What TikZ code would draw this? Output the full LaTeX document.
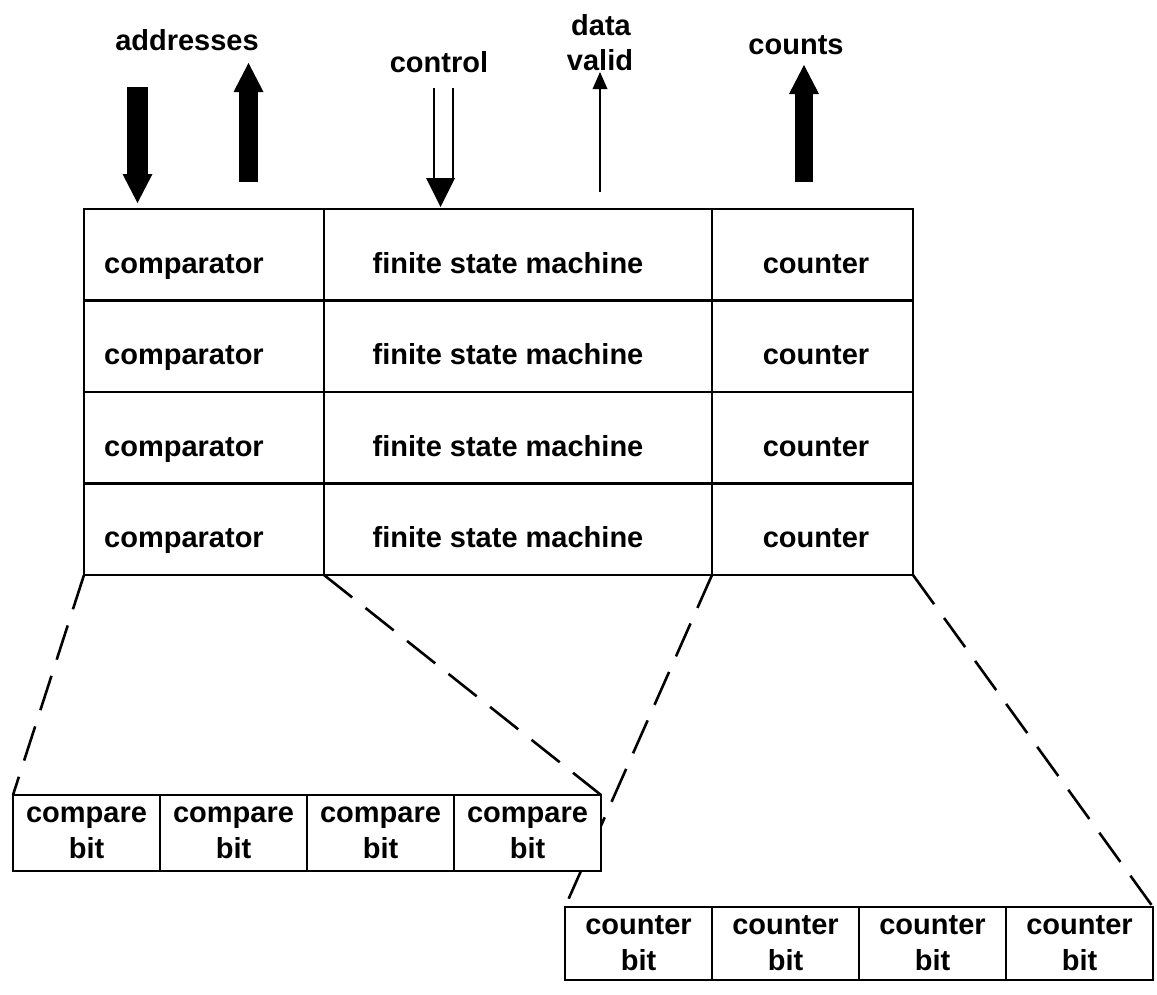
\documentclass[tikz,border=0pt]{standalone}
\usepackage{fontspec}
\setmainfont{Liberation Sans}
\usetikzlibrary{arrows.meta}
\pgfdeclarelayer{bg}
\pgfsetlayers{bg,main}
\begin{document}
\begin{tikzpicture}[x=1pt,y=-1pt,
  lbl/.style={font=\bfseries\fontsize{29}{36}\selectfont, inner sep=0pt, outer sep=0pt},
  mcell/.style={draw, line width=2.8pt, inner sep=0pt, outer sep=0pt, minimum height=91.5pt},
  bcell/.style={draw, fill=white, line width=2.8pt, inner sep=0pt, outer sep=0pt,
                minimum width=147pt, align=center, lbl},
  dashln/.style={line width=2.6pt, dash pattern=on 36pt off 17pt},
  fatarrow/.style={line width=#1, -{Triangle[length=29pt,width=30pt,line width=0pt]}},
  thinarrow/.style={line width=2.6pt, -{Triangle[length=17pt,width=15pt,line width=0pt]}},
  thinline/.style={line width=2.6pt}
]
\useasboundingbox (0,0) rectangle (1157,994);

% main grid
\foreach \r in {1,2,3,4}{
  \node[mcell, minimum width=240pt] (a\r) at (204,{209+91.5*(\r-0.5)}) {};
  \node[mcell, minimum width=388pt] (b\r) at (518,{209+91.5*(\r-0.5)}) {};
  \node[mcell, minimum width=201pt] (c\r) at (812.5,{209+91.5*(\r-0.5)}) {};
  \node[lbl, anchor=base] (ta\r) at (184,{209+91.5*(\r-1)+64}) {comparator};
  \node[lbl, anchor=base] (tb\r) at (508,{209+91.5*(\r-1)+64}) {finite state machine};
  \node[lbl, anchor=base] (tc\r) at (816,{209+91.5*(\r-1)+64}) {counter};
}

% compare bits
\foreach \i/\x in {1/86.5,2/233.5,3/380.5,4/527.5}{
  \node[bcell, minimum height=76pt] (cb\i) at (\x,833) {compare\\bit};
}
% counter bits
\foreach \i/\x in {1/638.5,2/785.5,3/932.5,4/1079.5}{
  \node[bcell, minimum height=73pt] (kb\i) at (\x,943.5) {counter\\bit};
}

% dashed expansion lines
\begin{pgfonlayer}{bg}
  \draw[dashln] (a4.south west) -- (cb1.north west);
  \draw[dashln] (a4.south east) -- (cb4.north east);
  \draw[dashln] (c4.south west) -- (kb1.north west);
  \draw[dashln] (c4.south east) -- (kb4.north east);
\end{pgfonlayer}

% top labels
\node[lbl, anchor=base] (laddr) at (187,50) {addresses};
\node[lbl, anchor=base] (lctrl) at (439,72) {control};
\node[lbl, anchor=base] (ldata) at (601,35) {data};
\node[lbl, anchor=base] (lvalid) at (600,70) {valid};
\node[lbl, anchor=base] (lcounts) at (796,54) {counts};

% address arrows
\coordinate (ad1) at (137.5,87);
\coordinate (ad2) at (137.5,203);
\draw[fatarrow=21pt] (ad1) -- (ad2);
\coordinate (au1) at (248.5,182);
\coordinate (au2) at (248.5,63);
\draw[fatarrow=19pt] (au1) -- (au2);

% control double arrow
\coordinate (cl1) at (434,88);
\coordinate (cl2) at (434,180);
\coordinate (cr1) at (453,88);
\coordinate (cr2) at (453,180);
\coordinate (chl) at (426,178);
\coordinate (chr) at (455,178);
\coordinate (cht) at (440.5,207);
\draw[thinline] (cl1) -- (cl2);
\draw[thinline] (cr1) -- (cr2);
\fill (chl) -- (chr) -- (cht) -- cycle;

% data valid arrow
\coordinate (dv1) at (600,192);
\coordinate (dv2) at (600,72);
\draw[thinarrow] (dv1) -- (dv2);

% counts arrow
\coordinate (co1) at (804,182);
\coordinate (co2) at (804,65);
\draw[fatarrow=18pt] (co1) -- (co2);
\end{tikzpicture}
\end{document}
